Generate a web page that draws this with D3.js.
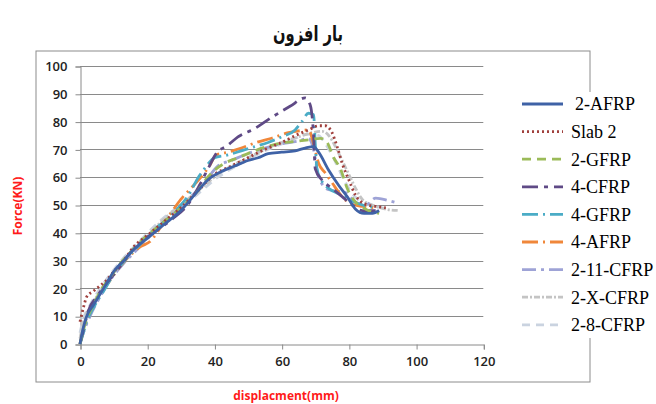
<!DOCTYPE html>
<html><head><meta charset="utf-8">
<script src="https://cdn.jsdelivr.net/npm/d3@7"></script>
<style>body{margin:0;background:#fff}svg{display:block}</style>
</head><body>
<svg id="c" width="656" height="404"></svg>
<script>
const title = "بار افزون";
const xTitle = "displacment(mm)";
const yTitle = "Force(KN)";
const xTicks = [0,20,40,60,80,100,120];
const yTicks = [0,10,20,30,40,50,60,70,80,90,100];
const seriesNames = ["2-AFRP","Slab 2","2-GFRP","4-CFRP","4-GFRP","4-AFRP","2-11-CFRP","2-X-CFRP","2-8-CFRP"];

const afrp2 = [[0,0],[1,6],[2,10],[4,14],[6,18],[8,22],[10,26],[13,30],[16,34],[20,38],[25,43],[30,48],[35,55],[38,59],[42,62],[46,64],[50,66],[53,67],[56,68.5],[60,69],[64,69.5],[67,70.5],[69.5,71],[71,69],[74,62.5],[77,57],[79.5,53],[82,48.5],[84.5,47],[87,47],[89,48]];
const slab2 = [[0,8],[1,13],[2,17],[4,19],[6,21],[8,23],[10,26],[13,30],[16,35],[20,39],[25,44],[30,49],[35,55],[40,61],[45,64],[50,67],[55,70],[60,72.5],[65,75.5],[68,77],[71,78.5],[73,78.5],[75,76],[76.5,71],[78,65],[80,59],[82,53.5],[84.5,50.5],[88,49.5],[91,49]];
const gfrp2 = [[0,0],[1,5],[2,9],[4,14],[6,19],[9,24],[12,29],[15,33],[19,38],[23,42],[27,46],[31,50],[35,55],[38,60],[40,62.5],[43,65],[47,67],[52,69.5],[57,71.5],[61,72.5],[65,73],[68.5,73.5],[71.5,74],[73.5,72.5],[75.5,67],[77.5,63],[79.5,56],[82,51],[85,48.5],[89,47]];
const cfrp4 = [[0,0],[1,5],[2.5,12],[5,17],[8,22],[12,28],[15,33],[18.5,37],[23,41],[28,45.5],[32,50],[35.5,57],[38.5,64],[40.5,68.5],[44,71.5],[47,74.5],[52,77.5],[57,81.5],[62.5,85.5],[67,88.5],[68.5,86],[69.5,75],[70,63],[72,59],[75,56],[78,53],[81,50],[84,48],[88,48]];
const gfrp4 = [[0,0],[1,4],[2,8],[4,13],[7,19],[10,25],[14,31],[18,36],[22,41],[26,45],[30,50],[32,53],[35.5,60.5],[37,63],[40,67],[44,68],[48,69.5],[52,71],[56,72.5],[60,74.5],[64,77],[66,80],[68,83],[69.5,82.5],[70,72],[70.5,63],[72,58.5],[74,56],[77,54],[80,52],[84,50],[88,49]];
const afrp4 = [[0,0],[1,5],[3,11],[6,18],[9,23],[12,28],[15,32],[18,35],[21,37],[24,42],[27,47],[30,52],[33,56],[36,60],[38.5,64],[40.5,68],[44,69],[48,70.5],[52.5,72.5],[57,74],[62,76],[66,76.8],[68,77],[69.5,72],[71,65],[73,61.5],[75,58],[78,53],[80.5,50.5],[84,49.5],[88,49]];
const cfrp2_11 = [[0,0],[1,4],[3,10],[6,17],[9,23],[13,29],[17,34],[21,39],[25,44],[29,48],[33,53],[37,58],[41,64],[45,66],[50,68.5],[55,70.5],[60,72],[65,73],[68,74],[69.5,70],[71,60],[74,55.5],[79,54.5],[82,51],[85,50],[88,52.5],[92,51.5],[95,50.5]];
const cfrp2_X = [[0,2],[1,8],[3,13],[6,19],[9,24],[13,30],[17,35],[21,40],[25,45],[29,49],[33,53],[37,57],[41,61],[45,64],[50,67],[55,70],[60,72.5],[65,74.5],[69,76],[72,76.5],[74,75],[76,71],[78,66],[80,61],[82,56],[84,52],[87,50],[91,48.5],[95,48]];
const cfrp2_8 = [[0,4],[1,9],[3,14],[6,20],[9,25],[13,31],[17,36],[21,41],[25,45.5],[29,49],[33,52],[37,56],[41,60],[45,63],[50,66.5],[55,69.5],[60,72],[64,74],[68,75.5],[71,75],[73,72],[75,68],[77,63],[79,58],[81,54],[84,51],[88,49.5],[92,48.5]];

const seriesData = [afrp2, slab2, gfrp2, cfrp4, gfrp4, afrp4, cfrp2_11, cfrp2_X, cfrp2_8];
const colors = ["#3F62A6","#A0403D","#9BBB59","#5F4A86","#4BACC6","#F0873A","#9EA3D6","#C4C4C4","#CAD3E0"];
const dashes = ["none","2,3","9,6","16,6,4,6","16,5,2,5","16,5,2,5","14,5,3,5","6,2,2,2","8,6"];

const svg = d3.select("#c");
const x = d3.scaleLinear().domain([0,120]).range([80,483.3]);
const y = d3.scaleLinear().domain([0,100]).range([344,66]);

// outer chart frame
svg.append("rect").attr("x",36).attr("y",51).attr("width",554).attr("height",331)
  .attr("fill","none").attr("stroke","#8c8c8c").attr("stroke-width",1);

// title
svg.append("text").attr("x",308).attr("y",41).attr("text-anchor","middle")
  .attr("font-family","DejaVu Sans, sans-serif").attr("font-size",21).attr("font-weight","bold")
  .attr("textLength",70).attr("lengthAdjust","spacingAndGlyphs")
  .attr("fill","#111").text(title);

// gridlines
svg.append("g").selectAll("line").data(yTicks.filter(d=>d>0)).join("line")
  .attr("x1",x(0)).attr("x2",x(120)).attr("y1",d=>Math.round(y(d))+0.5).attr("y2",d=>Math.round(y(d))+0.5)
  .attr("stroke","#8a8a8a").attr("stroke-width",1);

// axes
const yAxis = d3.axisLeft(y).tickValues(yTicks).tickSize(5).tickPadding(8).tickFormat(d3.format("d"));
const gy = svg.append("g").attr("transform","translate("+(x(0)+0.5)+",0.5)").call(yAxis);
const xAxis = d3.axisBottom(x).tickValues(xTicks).tickSize(5).tickPadding(7).tickFormat(d3.format("d"));
const gx = svg.append("g").attr("transform","translate(0.5,"+(y(0)+0.5)+")").call(xAxis);
[gx,gy].forEach(g=>{
  g.select(".domain").attr("stroke","#8a8a8a");
  g.selectAll(".tick line").attr("stroke","#8a8a8a");
  g.selectAll(".tick text").attr("font-family","Open Sans, sans-serif").attr("font-size",13)
   .attr("font-weight",600).attr("fill","#222");
});

// axis titles
svg.append("text").attr("x",286).attr("y",400).attr("text-anchor","middle")
  .attr("font-family","Open Sans, sans-serif").attr("font-size",12).attr("font-weight","bold")
  .attr("fill","#ff1a1a").text(xTitle);
svg.append("text").attr("transform","translate(22,206) rotate(-90)").attr("text-anchor","middle")
  .attr("font-family","Open Sans, sans-serif").attr("font-size",12).attr("font-weight","bold")
  .attr("fill","#ff1a1a").text(yTitle);

// series
const line = d3.line().x(d=>x(d[0])).y(d=>y(d[1])).curve(d3.curveMonotoneX);
const order = d3.range(seriesData.length).reverse();
svg.append("g").selectAll("path").data(order).join("path")
  .attr("d",i=>line(seriesData[i])).attr("fill","none")
  .attr("stroke",i=>colors[i]).attr("stroke-width",2.8)
  .attr("stroke-dasharray",i=>dashes[i]).attr("stroke-linejoin","round");

// legend
svg.append("rect").attr("x",516).attr("y",92).attr("width",140).attr("height",246).attr("fill","#fff");
const ly0 = 104, lstep = 27.6;
const lg = svg.append("g").selectAll("g").data(seriesNames).join("g")
  .attr("transform",(d,i)=>"translate(0,"+(ly0+i*lstep)+")");
lg.append("line").attr("x1",522).attr("x2",563).attr("y1",0).attr("y2",0)
  .attr("stroke",(d,i)=>colors[i]).attr("stroke-width",2.8).attr("stroke-dasharray",(d,i)=>dashes[i]);
lg.append("text").attr("x",(d,i)=>i===0?575:571).attr("y",0).attr("dy","0.35em")
  .attr("font-family","Liberation Serif, Times New Roman, serif").attr("font-size",18)
  .attr("fill","#000").text(d=>d);
</script>
</body></html>
